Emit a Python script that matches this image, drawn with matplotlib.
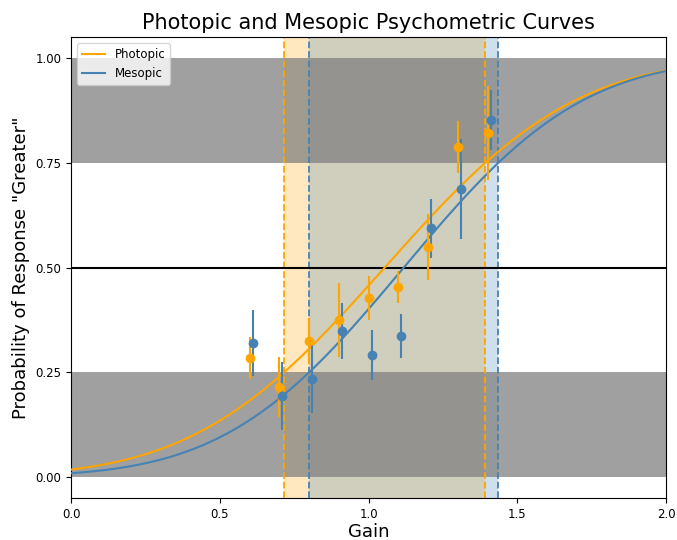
import math
import numpy as np
import matplotlib
matplotlib.use("Agg")
import matplotlib.pyplot as plt

# Data
gains_phot = [0.6, 0.7, 0.8, 0.9, 1.0, 1.1, 1.2, 1.3, 1.4]
prob_phot = [0.284, 0.215, 0.325, 0.375, 0.427, 0.453, 0.549, 0.788, 0.821]
err_phot = [0.050, 0.072, 0.055, 0.088, 0.053, 0.038, 0.079, 0.062, 0.112]

gains_meso = [0.61, 0.71, 0.81, 0.91, 1.01, 1.11, 1.21, 1.31, 1.41]
prob_meso = [0.320, 0.193, 0.234, 0.348, 0.291, 0.337, 0.594, 0.687, 0.852]
err_meso = [0.079, 0.081, 0.081, 0.067, 0.060, 0.053, 0.070, 0.119, 0.072]

# Fitted cumulative-normal parameters
mu_phot, sigma_phot = 1.054, 0.501
mu_meso, sigma_meso = 1.118, 0.471

# 25% / 75% thresholds
thr_phot = [0.716, 1.392]
thr_meso = [0.800, 1.435]


def cdf(x, mu, s):
    return np.array([0.5 * (1 + math.erf((v - mu) / (s * math.sqrt(2)))) for v in x])


fig, ax = plt.subplots(figsize=(6.77, 5.4), dpi=100)
fig.subplots_adjust(left=0.105, right=0.984, top=0.931, bottom=0.078)

ax.axvspan(thr_phot[0], thr_phot[1], color='orange', alpha=0.25, lw=0, zorder=0)
ax.axvspan(thr_meso[0], thr_meso[1], color='steelblue', alpha=0.25, lw=0, zorder=0)

ax.axhspan(0.75, 1.0, color='grey', alpha=0.75, lw=0, zorder=1)
ax.axhspan(0.0, 0.25, color='grey', alpha=0.75, lw=0, zorder=1)

for v in thr_phot:
    ax.axvline(v, color='orange', ls='--', lw=1.3, zorder=2)
for v in thr_meso:
    ax.axvline(v, color='steelblue', ls='--', lw=1.3, zorder=2)

ax.axhline(0.5, color='black', lw=1.5, zorder=2)

xs = np.linspace(0, 2, 400)
ax.plot(xs, cdf(xs, mu_phot, sigma_phot), color='orange', lw=1.5, label='Photopic', zorder=3)
ax.plot(xs, cdf(xs, mu_meso, sigma_meso), color='steelblue', lw=1.5, label='Mesopic', zorder=3)

ax.errorbar(gains_phot, prob_phot, yerr=err_phot, fmt='o', color='orange',
            ms=6, elinewidth=1.5, capsize=0, zorder=4)
ax.errorbar(gains_meso, prob_meso, yerr=err_meso, fmt='o', color='steelblue',
            ms=6, elinewidth=1.5, capsize=0, zorder=4)

ax.set_xlim(0, 2)
ax.set_ylim(-0.05, 1.05)
ax.set_xticks([0.0, 0.5, 1.0, 1.5, 2.0])
ax.set_yticks([0.0, 0.25, 0.5, 0.75, 1.0])
ax.tick_params(labelsize=8.5)
ax.set_xlabel('Gain', fontsize=13, labelpad=2)
ax.set_ylabel('Probability of Response "Greater"', fontsize=13)
ax.set_title('Photopic and Mesopic Psychometric Curves', fontsize=15)
ax.legend(loc='upper left', fontsize=8.5)

fig.savefig('out.png', dpi=100)
